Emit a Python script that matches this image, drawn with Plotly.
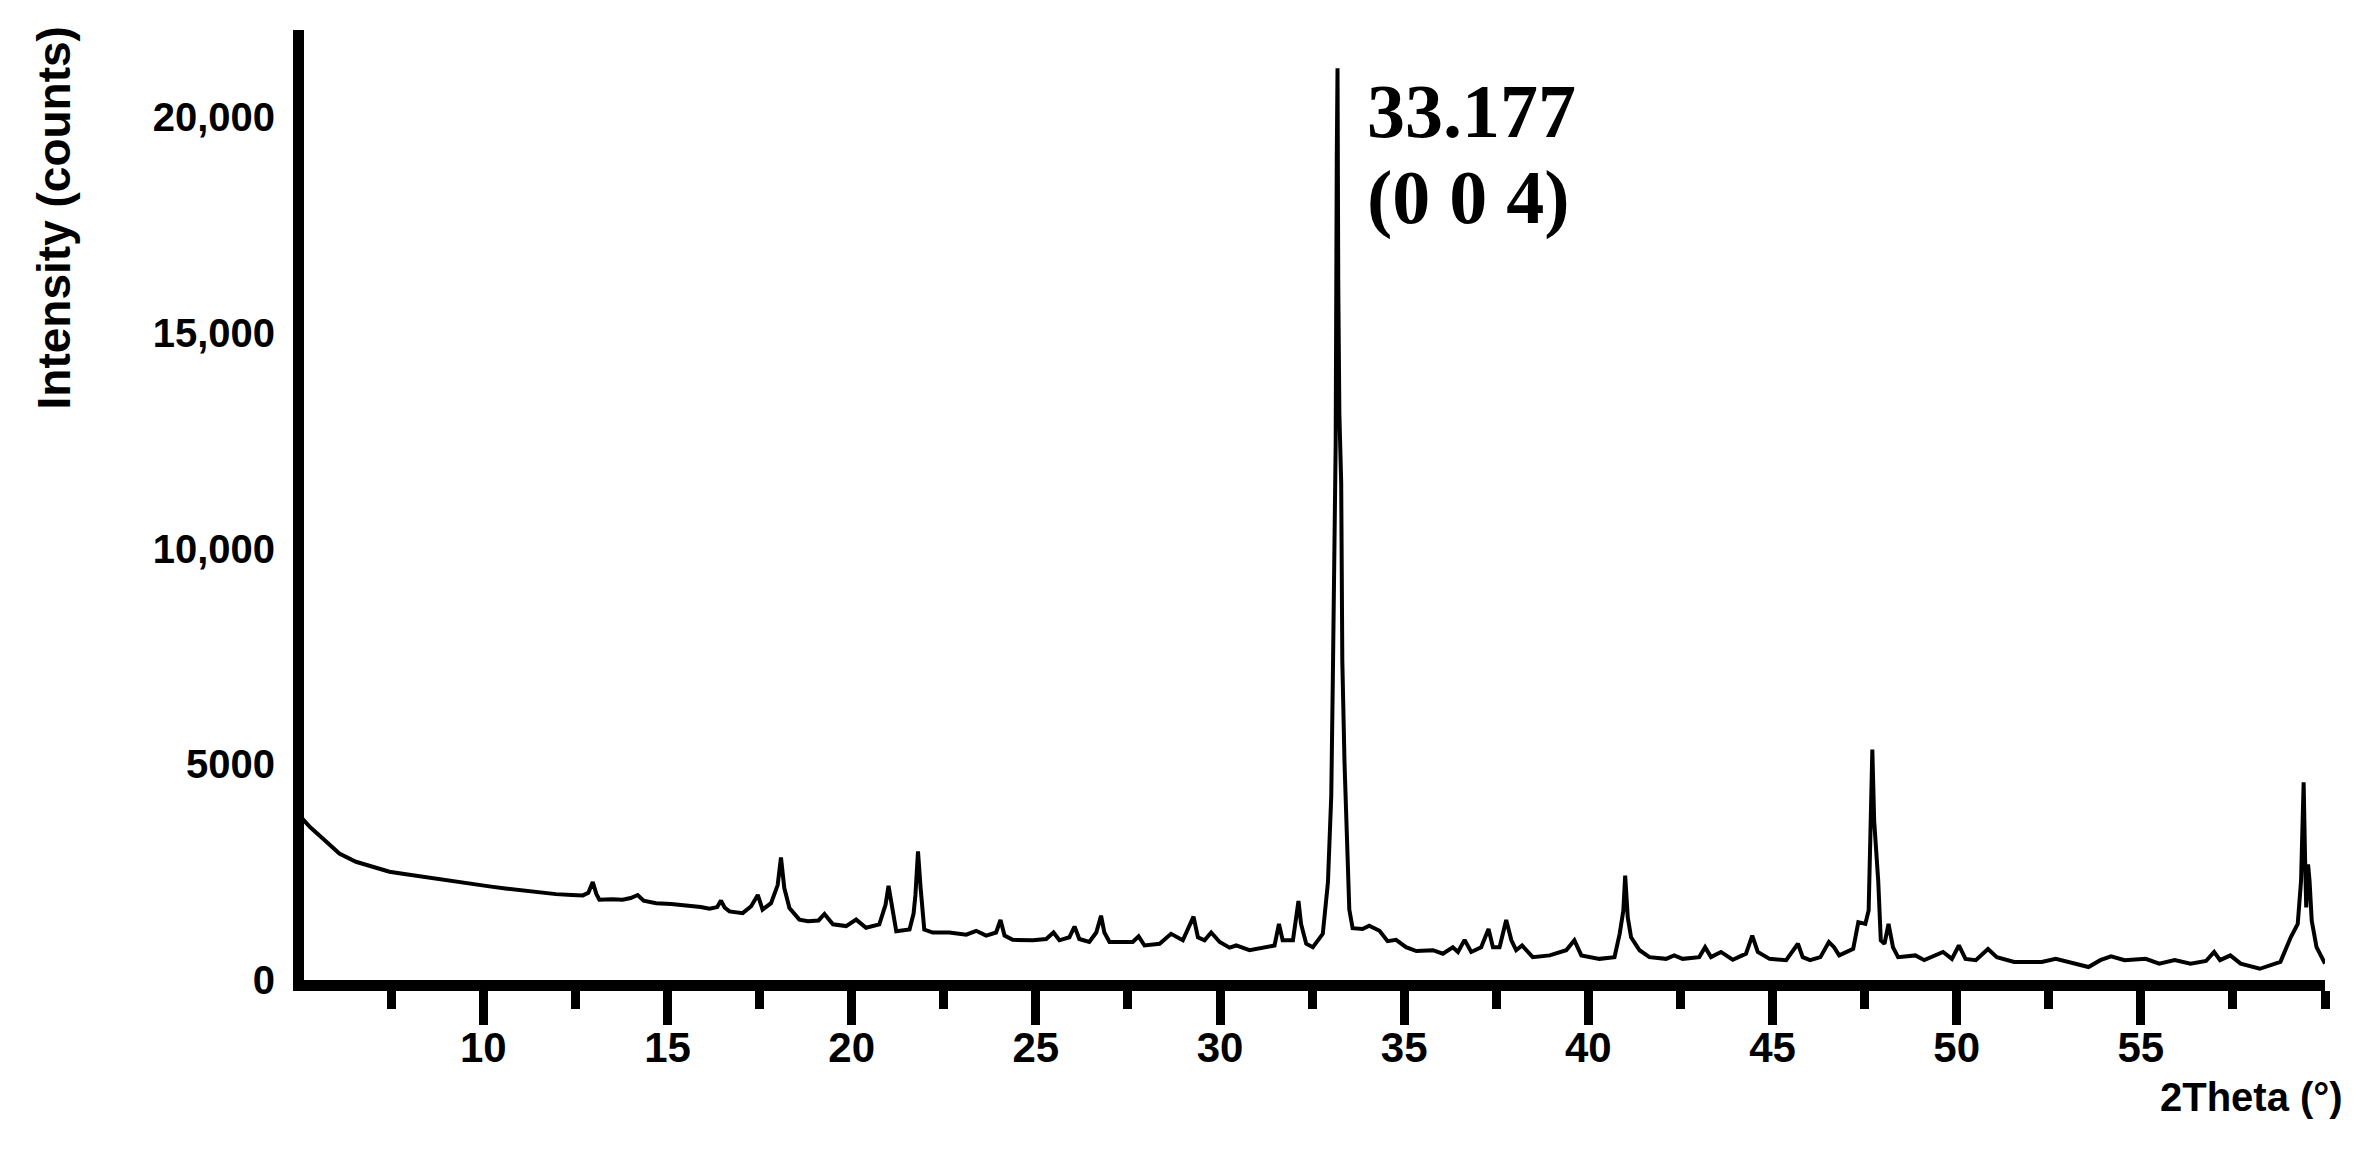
import plotly.graph_objects as go

two_theta = [
    5.02, 5.30, 5.64, 6.09, 6.54, 7.00, 7.45, 7.90, 8.35, 8.80, 9.26, 9.70, 10.16, 10.60,
    11.07, 11.50, 11.97, 12.40, 12.70, 12.85, 12.97, 13.07, 13.15, 13.50, 13.78, 14.00,
    14.19, 14.35, 14.69, 15.10, 15.59, 15.90, 16.14, 16.35, 16.45, 16.55, 16.68, 17.04,
    17.27, 17.45, 17.58, 17.81, 17.99, 18.08, 18.17, 18.31, 18.58, 18.81, 19.10, 19.26,
    19.49, 19.85, 20.12, 20.39, 20.75, 20.92, 21.00, 21.10, 21.21, 21.57, 21.68, 21.73,
    21.80, 21.87, 21.97, 22.20, 22.65, 23.11, 23.38, 23.65, 23.92, 24.04, 24.15, 24.37,
    24.92, 25.28, 25.48, 25.64, 25.91, 26.05, 26.18, 26.45, 26.64, 26.77, 26.86, 27.00,
    27.63, 27.79, 27.95, 28.36, 28.67, 28.99, 29.19, 29.28, 29.40, 29.58, 29.76, 29.99,
    30.26, 30.44, 30.80, 31.25, 31.48, 31.60, 31.70, 31.98, 32.07, 32.13, 32.20, 32.34,
    32.52, 32.79, 32.93, 33.02, 33.06, 33.10, 33.14, 33.17, 33.19, 33.21, 33.24, 33.29,
    33.32, 33.38, 33.44, 33.51, 33.60, 33.87, 34.05, 34.33, 34.55, 34.78, 35.05, 35.33,
    35.78, 36.05, 36.32, 36.46, 36.64, 36.82, 37.09, 37.29, 37.41, 37.59, 37.77, 37.91,
    38.04, 38.20, 38.49, 38.95, 39.40, 39.62, 39.81, 40.30, 40.71, 40.85, 40.95, 41.00,
    41.07, 41.16, 41.39, 41.66, 42.11, 42.33, 42.56, 43.01, 43.17, 43.33, 43.60, 43.92,
    44.28, 44.45, 44.60, 44.92, 45.37, 45.69, 45.82, 46.02, 46.30, 46.53, 46.67, 46.81,
    47.19, 47.33, 47.52, 47.61, 47.66, 47.71, 47.76, 47.82, 47.87, 47.94, 48.04, 48.15,
    48.27, 48.41, 48.88, 49.12, 49.63, 49.87, 50.06, 50.24, 50.52, 50.85, 51.09, 51.56,
    52.31, 52.69, 53.16, 53.58, 53.90, 54.19, 54.56, 55.13, 55.50, 55.92, 56.35, 56.77,
    56.99, 57.15, 57.43, 57.71, 58.23, 58.79, 59.07, 59.26, 59.35, 59.42, 59.46, 59.49,
    59.54, 59.58, 59.64, 59.77, 60.00,
]
intensity = [
    3800, 3540, 3280, 2930, 2740, 2620, 2510, 2450, 2390, 2330, 2280, 2220, 2170, 2120,
    2070, 2030, 1990, 1970, 1960, 2020, 2270, 1990, 1860, 1870, 1860, 1900,
    1970, 1840, 1780, 1760, 1720, 1690, 1650, 1690, 1840, 1680, 1590, 1550,
    1710, 1970, 1630, 1780, 2200, 2840, 2130, 1670, 1400, 1360, 1380, 1530,
    1290, 1250, 1400, 1210, 1290, 1750, 2180, 1630, 1130, 1170, 1540, 1970,
    2980, 2140, 1170, 1100, 1100, 1050, 1140, 1030, 1100, 1390, 1030, 930,
    920, 950, 1100, 920, 990, 1240, 950, 880, 1100, 1490, 1100, 880,
    880, 1010, 800, 840, 1070, 920, 1300, 1470, 990, 920, 1100, 880,
    750, 800, 690, 750, 800, 1300, 920, 920, 1450, 1830, 1300, 840,
    760, 1070, 2260, 4270, 6790, 9610, 12430, 19070, 21130, 16150, 13130, 11520,
    7400, 5030, 3110, 1630, 1200, 1180, 1260, 1140, 900, 930, 760, 670,
    690, 610, 760, 650, 930, 650, 760, 1180, 760, 760, 1390, 920,
    690, 800, 530, 570, 690, 920, 570, 490, 530, 1070, 1610, 2420,
    1450, 990, 690, 530, 490, 570, 490, 530, 760, 530, 650, 470,
    610, 1030, 650, 490, 460, 840, 530, 460, 530, 880, 760, 570,
    720, 1340, 1300, 1610, 3460, 5340, 3690, 2990, 2300, 920, 840, 1300,
    760, 530, 570, 460, 650, 490, 800, 490, 460, 720, 530, 420,
    420, 490, 380, 300, 460, 550, 460, 490, 380, 460, 380, 440,
    650, 460, 570, 380, 260, 420, 990, 1300, 2300, 4580, 2760, 1680,
    2680, 2300, 1370, 760, 380,
]

x_major = [10, 15, 20, 25, 30, 35, 40, 45, 50, 55]
y_ticks = [0, 5000, 10000, 15000, 20000]
y_tick_text = ["0", "5000", "10,000", "15,000", "20,000"]

peak_pos = "33.177"
peak_hkl = "(0 0 4)"
x_title = "2Theta (°)"
y_title = "Intensity (counts)"

fig = go.Figure()
fig.add_trace(go.Scatter(
    x=two_theta, y=intensity, mode="lines",
    line=dict(color="black", width=4), hoverinfo="skip", showlegend=False,
))

sans = "Liberation Sans, Arial, sans-serif"
serif = "Liberation Serif, Times New Roman, serif"

fig.update_layout(
    width=2356, height=1134,
    margin=dict(l=296, r=39, t=22, b=162),
    plot_bgcolor="white", paper_bgcolor="white",
    xaxis=dict(
        range=[5.13, 60], showgrid=False, zeroline=False,
        showline=True, linewidth=11, linecolor="black",
        tickmode="array", tickvals=x_major,
        ticks="outside", ticklen=34, tickwidth=9, tickcolor="black",
        ticklabelstandoff=-13,
        tickfont=dict(family=sans, size=42, color="black", weight="bold"),
        minor=dict(dtick=2.5, tick0=0, ticks="outside", ticklen=18,
                   tickwidth=9, tickcolor="black"),
    ),
    yaxis=dict(
        range=[0, 22016], showgrid=False, zeroline=False,
        showline=True, linewidth=11, linecolor="black",
        tickmode="array", tickvals=y_ticks, ticktext=y_tick_text,
        ticks="", ticklabelstandoff=10,
        tickfont=dict(family=sans, size=40, color="black", weight="bold"),
    ),
    annotations=[
        dict(text=peak_pos, xref="paper", yref="paper", x=0.5248, y=0.9147,
             xanchor="left", yanchor="middle", align="left", showarrow=False,
             font=dict(family=serif, size=76, color="black", weight="bold")),
        dict(text=peak_hkl, xref="paper", yref="paper", x=0.5248, y=0.8242,
             xanchor="left", yanchor="middle", align="left", showarrow=False,
             font=dict(family=serif, size=76, color="black", weight="bold")),
        dict(text=x_title, xref="paper", yref="paper", x=1.0097, y=-0.1232,
             xanchor="right", yanchor="middle", showarrow=False,
             font=dict(family=sans, size=40, color="black", weight="bold")),
        dict(text=y_title, xref="paper", yref="paper", x=-0.1235, y=0.8021,
             xanchor="center", yanchor="middle", textangle=-90, showarrow=False,
             font=dict(family=sans, size=46, color="black", weight="bold")),
    ],
)

fig.write_html("out.html")
